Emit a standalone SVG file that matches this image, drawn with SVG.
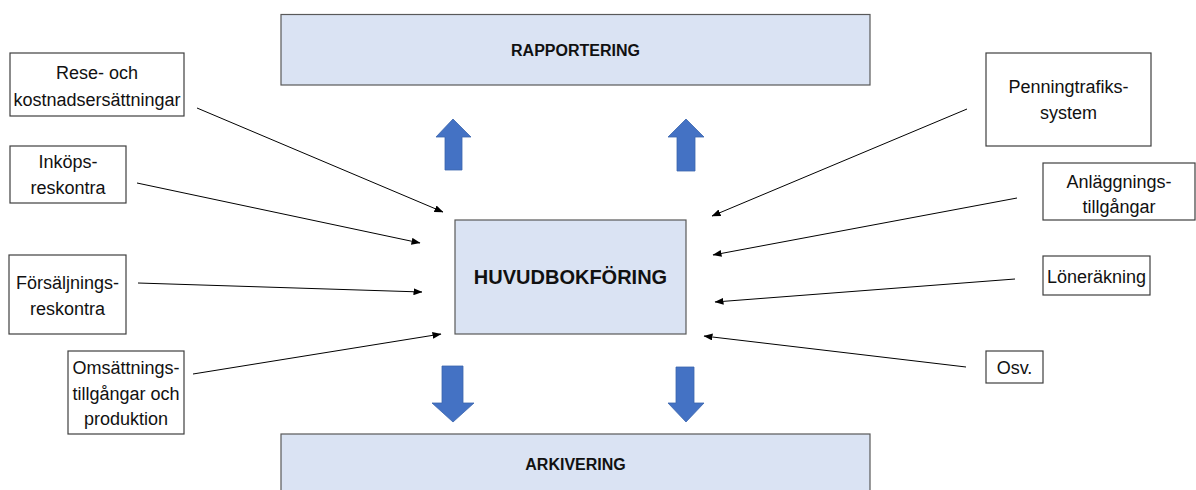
<svg xmlns="http://www.w3.org/2000/svg" width="1196" height="490" viewBox="0 0 1196 490">
<defs>
<style>
.box{fill:#ffffff;stroke:#3f3f3f;stroke-width:1.2}
.main{fill:#dae3f3;stroke:#595959;stroke-width:1.2}
.lbl{font-family:"Liberation Sans",Arial,sans-serif;font-size:18px;fill:#111;text-anchor:middle}
.big{font-family:"Liberation Sans",Arial,sans-serif;font-weight:bold;fill:#111;text-anchor:middle}
.con{stroke:#000;stroke-width:1;fill:none;marker-end:url(#ah)}
.blue{fill:#4472c4;stroke:#3a64ad;stroke-width:0.8}
</style>
<marker id="ah" markerWidth="9" markerHeight="7" refX="8.5" refY="3.5" orient="auto" markerUnits="userSpaceOnUse">
<path d="M0,0 L9,3.5 L0,7 Z" fill="#000"/>
</marker>
</defs>
<rect width="1196" height="490" fill="#fff"/>

<g id="rapportering">
<rect class="main" x="281" y="14.5" width="589" height="70.5"/>
<text class="big" x="575.5" y="56" font-size="16">RAPPORTERING</text>
</g>
<g id="huvudbokforing">
<rect class="main" x="455" y="220" width="231" height="114"/>
<text class="big" x="570.5" y="284" font-size="20">HUVUDBOKFÖRING</text>
</g>
<g id="arkivering">
<rect class="main" x="281" y="434" width="589" height="72"/>
<text class="big" x="575.5" y="470" font-size="16">ARKIVERING</text>
</g>

<g id="rese">
<rect class="box" x="10" y="53" width="174" height="63"/>
<text class="lbl" x="97" y="79">Rese- och</text>
<text class="lbl" x="97" y="106">kostnadsersättningar</text>
</g>
<g id="inkops">
<rect class="box" x="10" y="146" width="116" height="57"/>
<text class="lbl" x="68" y="168">Inköps-</text>
<text class="lbl" x="68" y="194">reskontra</text>
</g>
<g id="forsaljnings">
<rect class="box" x="9" y="255" width="117" height="79"/>
<text class="lbl" x="67.5" y="289">Försäljnings-</text>
<text class="lbl" x="67.5" y="315">reskontra</text>
</g>
<g id="omsattnings">
<rect class="box" x="68" y="351" width="116" height="83"/>
<text class="lbl" x="126" y="374">Omsättnings-</text>
<text class="lbl" x="126" y="400">tillgångar och</text>
<text class="lbl" x="126" y="425">produktion</text>
</g>
<g id="penningtrafik">
<rect class="box" x="986" y="53" width="165" height="93"/>
<text class="lbl" x="1068.5" y="93">Penningtrafiks-</text>
<text class="lbl" x="1068.5" y="119">system</text>
</g>
<g id="anlaggnings">
<rect class="box" x="1043" y="163" width="152" height="57"/>
<text class="lbl" x="1119" y="188">Anläggnings-</text>
<text class="lbl" x="1119" y="213">tillgångar</text>
</g>
<g id="loneräkning">
<rect class="box" x="1043" y="256" width="107" height="39"/>
<text class="lbl" x="1096.5" y="283">Löneräkning</text>
</g>
<g id="osv">
<rect class="box" x="986" y="351" width="57" height="32"/>
<text class="lbl" x="1014.5" y="374">Osv.</text>
</g>

<g id="connectors">
<line class="con" x1="197" y1="108" x2="443" y2="212"/>
<line class="con" x1="137" y1="183" x2="420" y2="243"/>
<line class="con" x1="138" y1="283" x2="422" y2="292"/>
<line class="con" x1="193" y1="374" x2="441" y2="334"/>
<line class="con" x1="967" y1="109" x2="712" y2="216"/>
<line class="con" x1="1017" y1="198" x2="713" y2="255"/>
<line class="con" x1="1015" y1="279" x2="715" y2="302"/>
<line class="con" x1="966" y1="367" x2="704" y2="336"/>
<path class="blue" d="M453,119 L471,137 L462,137 L462,170 L445,170 L445,137 L436,137 Z"/>
<path class="blue" d="M686,119 L704,137 L695,137 L695,171 L677,171 L677,137 L668,137 Z"/>
<path class="blue" d="M442,366 L463,366 L463,403 L474,403 L453,422 L432,403 L442,403 Z"/>
<path class="blue" d="M676,367 L694,367 L694,403 L704,403 L686,422 L668,403 L676,403 Z"/>
</g>
</svg>
